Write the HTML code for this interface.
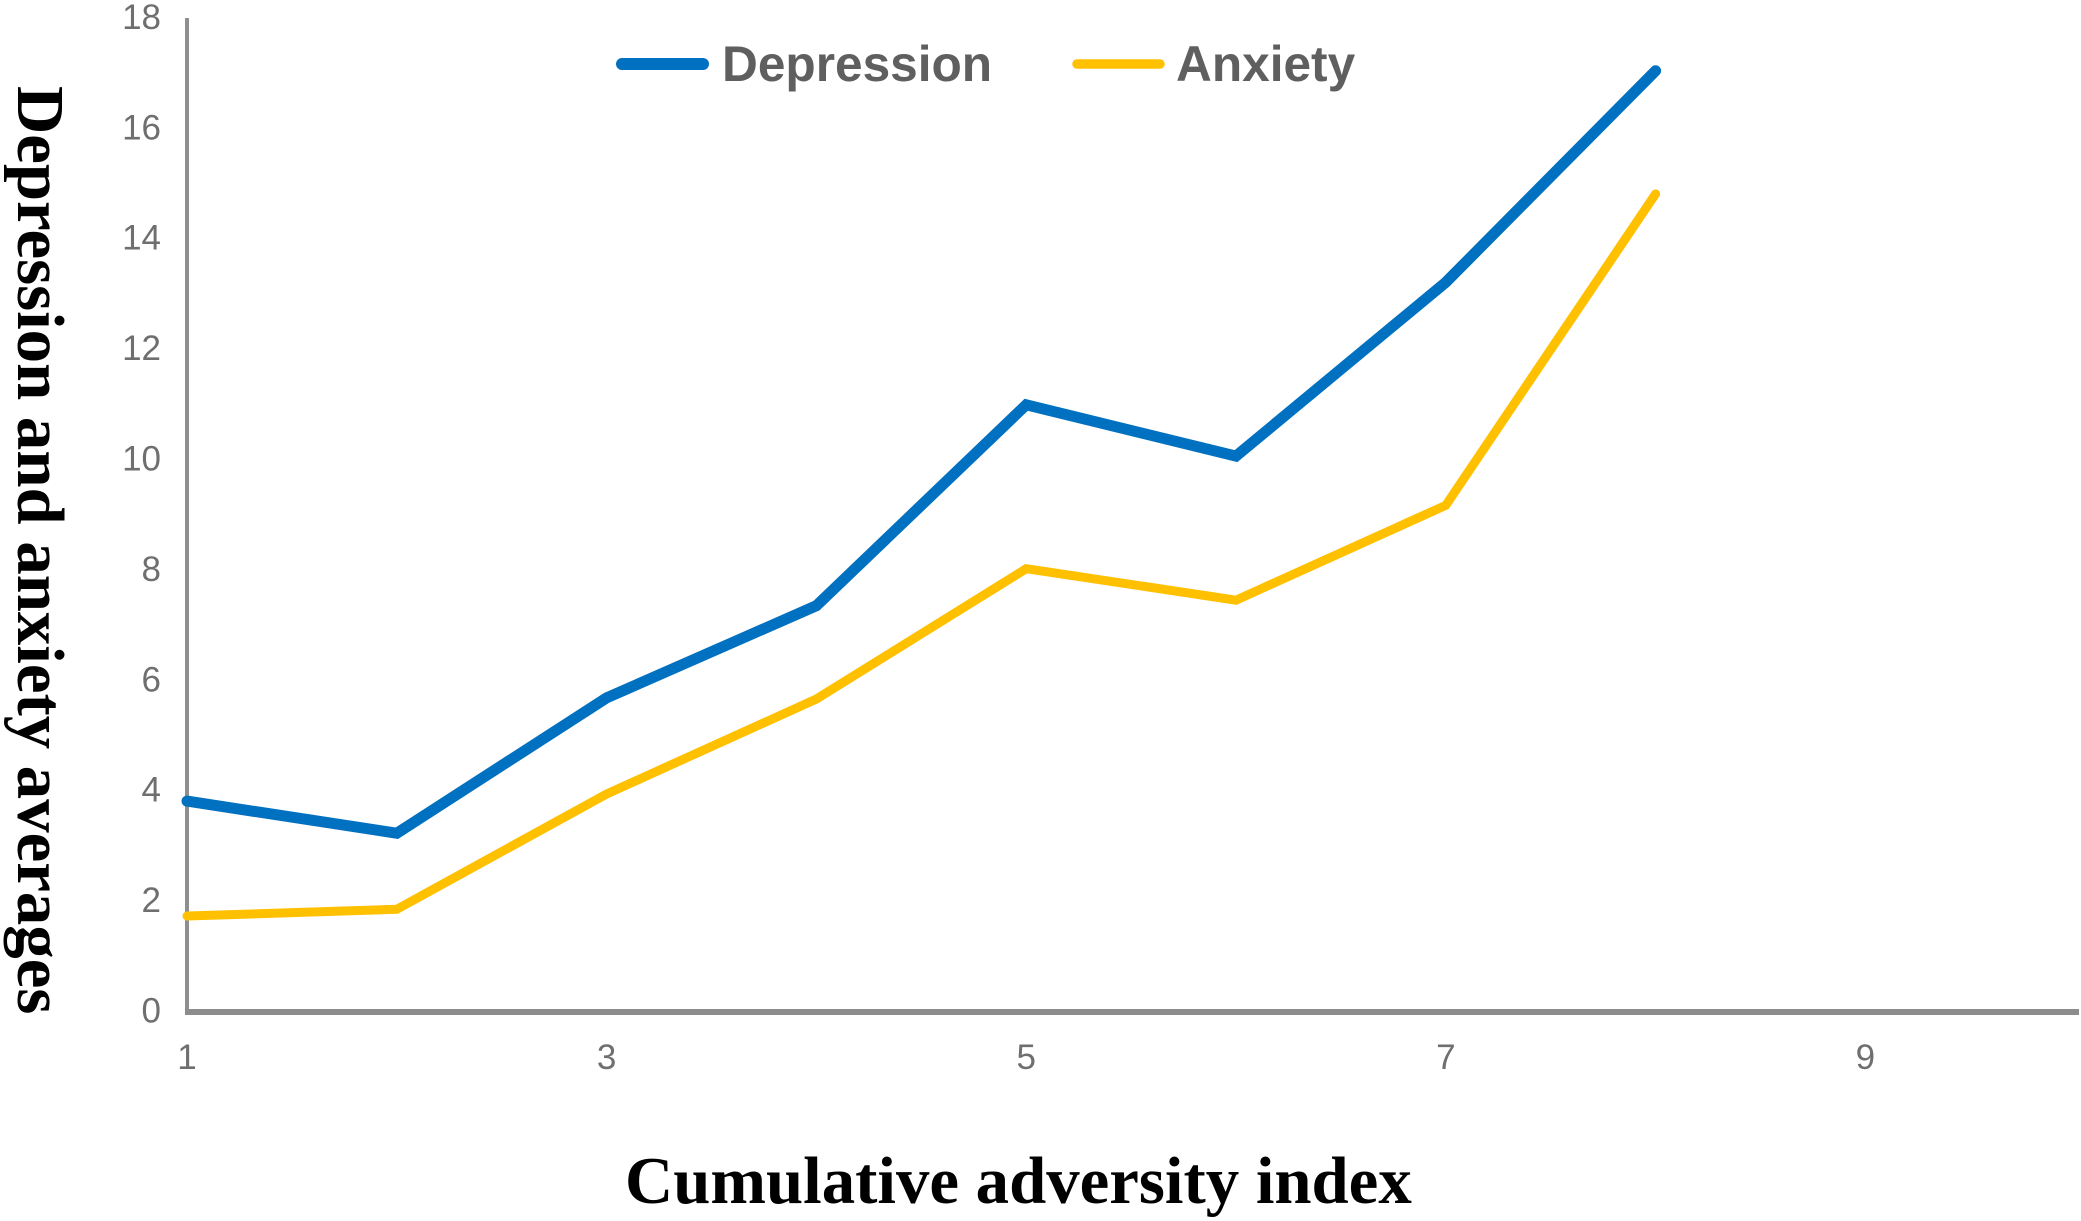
<!DOCTYPE html>
<html lang="en">
<head>
<meta charset="utf-8">
<title>Depression and anxiety averages by cumulative adversity index</title>
<style>
  html, body { margin: 0; padding: 0; background: #fff; }
  body { width: 2081px; height: 1221px; overflow: hidden; }
  svg { display: block; }
  .tick { font-family: "Liberation Sans", sans-serif; font-size: 35px; fill: #6f6f6f; }
  .title { font-family: "Liberation Serif", serif; font-weight: bold; font-size: 66.8px; fill: #000; }
  .legend-text { font-family: "Liberation Sans", sans-serif; font-weight: bold; font-size: 49.6px; fill: #5f5f5f; }
</style>
</head>
<body>
<svg id="chart" xmlns="http://www.w3.org/2000/svg" width="2081" height="1221" viewBox="0 0 2081 1221">
  <rect x="0" y="0" width="2081" height="1221" fill="#ffffff"/>
  <g id="axes">
    <line x1="187" y1="18" x2="187" y2="1012" stroke="#8f8f8f" stroke-width="4"/>
    <line x1="185" y1="1012" x2="2079" y2="1012" stroke="#8c8c8c" stroke-width="6"/>
  </g>
  <g id="y-ticks"></g>
  <g id="x-ticks"></g>
  <g id="series"></g>
  <g>
    <g>
      <line x1="622" y1="64" x2="703" y2="64" stroke="#0070C0" stroke-width="12" stroke-linecap="round"/>
      <text class="legend-text" x="722" y="81">Depression</text>
    </g>
    <g>
      <line x1="1077" y1="64" x2="1160" y2="64" stroke="#FFC000" stroke-width="9.5" stroke-linecap="round"/>
      <text class="legend-text" x="1176" y="81">Anxiety</text>
    </g>
  </g>
  <text class="title" transform="translate(18,86) rotate(90)" x="0" y="0">Depression and anxiety averages</text>
  <text class="title" x="625" y="1203">Cumulative adversity index</text>
</svg>
<script>
const categories = [1, 2, 3, 4, 5, 6, 7, 8];
const depressionValues = [3.82, 3.24, 5.69, 7.36, 11.0, 10.07, 13.22, 17.05];
const anxietyValues = [1.74, 1.86, 3.95, 5.67, 8.03, 7.46, 9.18, 14.82];
const xTickLabels = [1, 3, 5, 7, 9];
const yTickLabels = [0, 2, 4, 6, 8, 10, 12, 14, 16, 18];

const SVG_NS = 'http://www.w3.org/2000/svg';

function xScale(v) {
  return 187 + (v - 1) * 209.8;
}
function yScale(v) {
  return 1012 - v * 55.2;
}

const yTickGroup = document.getElementById('y-ticks');
yTickLabels.forEach(function (v) {
  const t = document.createElementNS(SVG_NS, 'text');
  
  
  t.setAttribute('class', 'tick');
  t.setAttribute('x', 161);
  t.setAttribute('y', yScale(v) + 10.5);
  t.setAttribute('text-anchor', 'end');
  t.textContent = String(v);
  yTickGroup.appendChild(t);
});

const xTickGroup = document.getElementById('x-ticks');
xTickLabels.forEach(function (v) {
  const t = document.createElementNS(SVG_NS, 'text');
  
  
  t.setAttribute('class', 'tick');
  t.setAttribute('x', xScale(v));
  t.setAttribute('y', 1069);
  t.setAttribute('text-anchor', 'middle');
  t.textContent = String(v);
  xTickGroup.appendChild(t);
});

function linePath(values) {
  return values.map(function (v, i) {
    return (i === 0 ? 'M' : 'L') + xScale(categories[i]).toFixed(1) + ' ' + yScale(v).toFixed(1);
  }).join(' ');
}

const seriesGroup = document.getElementById('series');

const depressionLine = document.createElementNS(SVG_NS, 'path');


depressionLine.setAttribute('d', linePath(depressionValues));
depressionLine.setAttribute('fill', 'none');
depressionLine.setAttribute('stroke', '#0070C0');
depressionLine.setAttribute('stroke-width', '11');
depressionLine.setAttribute('stroke-linecap', 'round');
depressionLine.setAttribute('stroke-linejoin', 'miter');
seriesGroup.appendChild(depressionLine);

const anxietyLine = document.createElementNS(SVG_NS, 'path');


anxietyLine.setAttribute('d', linePath(anxietyValues));
anxietyLine.setAttribute('fill', 'none');
anxietyLine.setAttribute('stroke', '#FFC000');
anxietyLine.setAttribute('stroke-width', '9');
anxietyLine.setAttribute('stroke-linecap', 'round');
anxietyLine.setAttribute('stroke-linejoin', 'miter');
seriesGroup.appendChild(anxietyLine);
</script>
</body>
</html>
